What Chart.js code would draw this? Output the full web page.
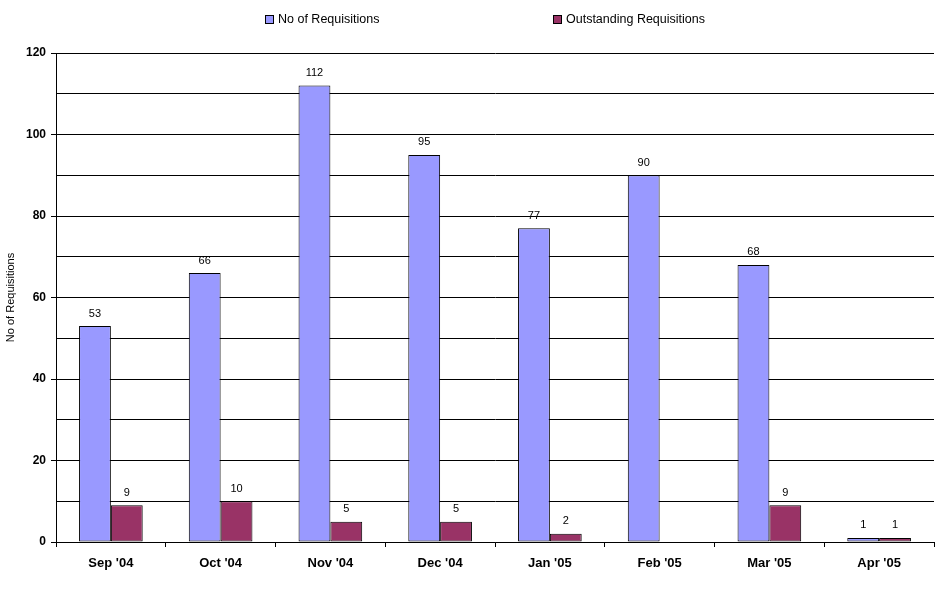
<!DOCTYPE html>
<html>
<head>
<meta charset="utf-8">
<script src="https://cdn.jsdelivr.net/npm/chart.js@4/dist/chart.umd.min.js"></script>
<style>
  body { margin: 0; background: #fff; }
  #wrap { width: 948px; height: 591px; }
</style>
</head>
<body>
<div id="wrap"><canvas id="chart"></canvas></div>
<script>
var months = ["Sep '04", "Oct '04", "Nov '04", "Dec '04", "Jan '05", "Feb '05", "Mar '05", "Apr '05"];
var requisitions = [53, 66, 112, 95, 77, 90, 68, 1];
var outstanding = [9, 10, 5, 5, 2, null, 9, 1];

// value labels above each bar
var valueLabels = {
    id: 'valueLabels',
    afterDatasetsDraw: function (chart) {
        var ctx = chart.ctx;
        ctx.save();
        ctx.font = '11px Arial, "Liberation Sans"';
        ctx.fillStyle = '#000';
        ctx.textAlign = 'center';
        ctx.textBaseline = 'bottom';
        chart.data.datasets.forEach(function (ds, i) {
            chart.getDatasetMeta(i).data.forEach(function (bar, j) {
                if (ds.data[j] == null) return;
                ctx.fillText(ds.data[j], bar.x, bar.y - 7);
            });
        });
        ctx.restore();
    }
};

// legend spaced out like the original
var wideLegend = {
    id: 'wideLegend',
    afterDraw: function (chart) {
        var ctx = chart.ctx;
        var xs = [265, 553];
        ctx.save();
        ctx.font = '12.5px Arial, "Liberation Sans"';
        ctx.textBaseline = 'middle';
        chart.data.datasets.forEach(function (ds, i) {
            ctx.fillStyle = ds.backgroundColor;
            ctx.fillRect(xs[i] + 0.5, 15.5, 8, 8);
            ctx.strokeStyle = '#000';
            ctx.lineWidth = 1;
            ctx.strokeRect(xs[i] + 0.5, 15.5, 8, 8);
            ctx.fillStyle = '#000';
            ctx.fillText(ds.label, xs[i] + 13, 20);
        });
        ctx.restore();
    }
};

new Chart(document.getElementById('chart'), {
    type: 'bar',
    data: {
        labels: months,
        datasets: [
            {
                label: 'No of Requisitions',
                data: requisitions,
                backgroundColor: '#9999FF',
                borderColor: '#000',
                borderWidth: 1,
                borderSkipped: false,
                categoryPercentage: 0.58,
                barPercentage: 1.0
            },
            {
                label: 'Outstanding Requisitions',
                data: outstanding,
                backgroundColor: '#993366',
                borderColor: '#000',
                borderWidth: 1,
                borderSkipped: false,
                categoryPercentage: 0.58,
                barPercentage: 1.0
            }
        ]
    },
    options: {
        responsive: true,
        maintainAspectRatio: false,
        animation: false,
        layout: { padding: { top: 53, right: 14, left: 0, bottom: 0 } },
        plugins: {
            legend: { display: false },
            tooltip: { enabled: false }
        },
        scales: {
            x: {
                offset: true,
                afterFit: function (scale) { scale.height = 49; },
                grid: {
                    offset: true,
                    drawOnChartArea: false,
                    color: '#000',
                    tickLength: 5
                },
                border: { color: '#000', width: 1 },
                ticks: {
                    color: '#000',
                    padding: 9,
                    font: { family: 'Arial, "Liberation Sans"', size: 13, weight: 'bold' }
                }
            },
            y: {
                min: 0,
                max: 120,
                afterFit: function (scale) { scale.width = 56; },
                title: {
                    display: true,
                    text: 'No of Requisitions',
                    color: '#000',
                    padding: { top: 4, bottom: 0 },
                    font: { family: 'Arial, "Liberation Sans"', size: 11 }
                },
                grid: {
                    color: '#000',
                    tickLength: 5,
                    tickColor: function (c) { return c.tick && c.tick.value % 20 === 0 ? '#000' : 'rgba(0,0,0,0)'; }
                },
                border: { color: '#000', width: 1 },
                ticks: {
                    stepSize: 10,
                    color: '#000',
                    padding: 5,
                    font: { family: 'Arial, "Liberation Sans"', size: 12, weight: 'bold' },
                    callback: function (v) { return v % 20 === 0 ? v : ''; }
                }
            }
        }
    },
    plugins: [valueLabels, wideLegend]
});
</script>
</body>
</html>
